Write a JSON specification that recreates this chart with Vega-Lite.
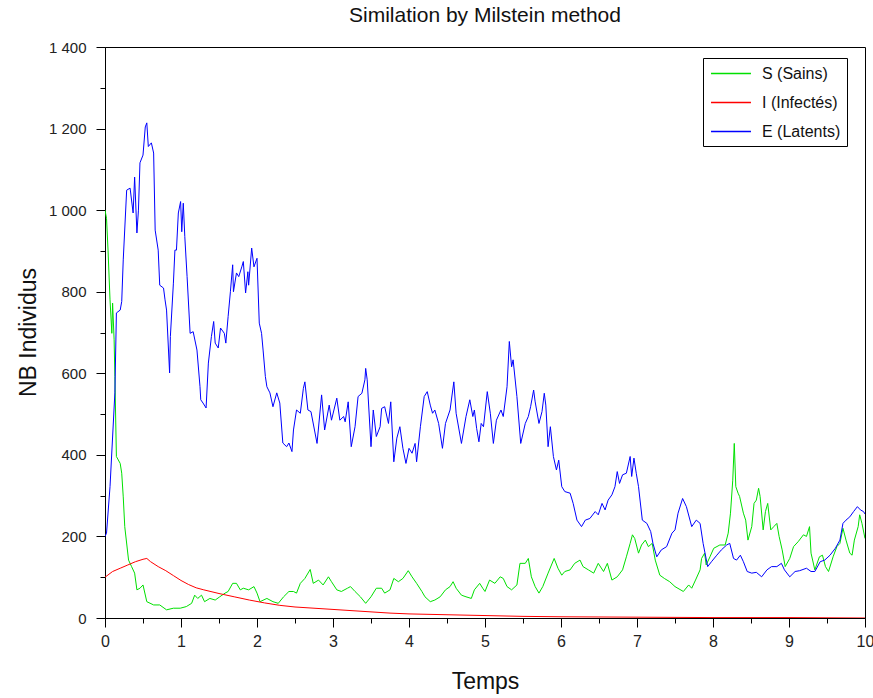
{
  "$schema": "https://vega.github.io/schema/vega-lite/v6.json",
  "autosize": {"type": "none"},
  "padding": {"left": 105, "top": 47, "right": 8, "bottom": 80},
  "width": 760,
  "height": 571,
  "background": "white",
  "title": {"text": "Similation by Milstein method", "fontSize": 21, "fontWeight": "normal", "font": "Liberation Sans", "color": "#111", "anchor": "middle", "frame": "group", "baseline": "alphabetic", "offset": -3},
  "config": {
    "font": "Liberation Sans",
    "view": {"stroke": "black", "strokeWidth": 1},
    "axis": {"grid": false, "domainColor": "black", "tickColor": "black", "labelColor": "#222", "labelFontSize": 15, "titleFontWeight": "normal", "titleColor": "#111", "titleFontSize": 23, "labelFont": "Liberation Sans", "titleFont": "Liberation Sans"},
    "legend": {"labelFont": "Liberation Sans"}
  },
  "data": {"values": [
    {"s":"S","t":0,"v":1000},{"s":"S","t":0.02,"v":980},{"s":"S","t":0.04,"v":902},{"s":"S","t":0.066,"v":780},{"s":"S","t":0.09,"v":698},{"s":"S","t":0.1,"v":772},{"s":"S","t":0.12,"v":682},{"s":"S","t":0.13,"v":592},{"s":"S","t":0.15,"v":396},{"s":"S","t":0.2,"v":379},{"s":"S","t":0.22,"v":355},{"s":"S","t":0.24,"v":297},{"s":"S","t":0.26,"v":224},{"s":"S","t":0.31,"v":142},{"s":"S","t":0.35,"v":126},{"s":"S","t":0.39,"v":110},{"s":"S","t":0.42,"v":69},{"s":"S","t":0.46,"v":73},{"s":"S","t":0.5,"v":81},{"s":"S","t":0.55,"v":40},{"s":"S","t":0.64,"v":32},{"s":"S","t":0.72,"v":32},{"s":"S","t":0.81,"v":20},{"s":"S","t":0.9,"v":24},{"s":"S","t":0.99,"v":24},{"s":"S","t":1.07,"v":28},{"s":"S","t":1.14,"v":36},{"s":"S","t":1.18,"v":56},{"s":"S","t":1.22,"v":48},{"s":"S","t":1.27,"v":56},{"s":"S","t":1.31,"v":40},{"s":"S","t":1.38,"v":48},{"s":"S","t":1.45,"v":44},{"s":"S","t":1.51,"v":52},{"s":"S","t":1.58,"v":61},{"s":"S","t":1.62,"v":65},{"s":"S","t":1.68,"v":85},{"s":"S","t":1.73,"v":85},{"s":"S","t":1.78,"v":69},{"s":"S","t":1.82,"v":73},{"s":"S","t":1.89,"v":69},{"s":"S","t":1.96,"v":77},{"s":"S","t":2.0,"v":61},{"s":"S","t":2.04,"v":40},{"s":"S","t":2.13,"v":48},{"s":"S","t":2.21,"v":40},{"s":"S","t":2.28,"v":36},{"s":"S","t":2.35,"v":52},{"s":"S","t":2.42,"v":65},{"s":"S","t":2.48,"v":65},{"s":"S","t":2.52,"v":61},{"s":"S","t":2.57,"v":85},{"s":"S","t":2.63,"v":97},{"s":"S","t":2.7,"v":119},{"s":"S","t":2.74,"v":85},{"s":"S","t":2.81,"v":93},{"s":"S","t":2.87,"v":81},{"s":"S","t":2.94,"v":101},{"s":"S","t":2.98,"v":89},{"s":"S","t":3.05,"v":69},{"s":"S","t":3.11,"v":65},{"s":"S","t":3.19,"v":73},{"s":"S","t":3.23,"v":77},{"s":"S","t":3.29,"v":65},{"s":"S","t":3.36,"v":52},{"s":"S","t":3.43,"v":36},{"s":"S","t":3.5,"v":52},{"s":"S","t":3.57,"v":73},{"s":"S","t":3.64,"v":73},{"s":"S","t":3.68,"v":61},{"s":"S","t":3.75,"v":69},{"s":"S","t":3.8,"v":97},{"s":"S","t":3.86,"v":89},{"s":"S","t":3.92,"v":97},{"s":"S","t":3.99,"v":116},{"s":"S","t":4.04,"v":101},{"s":"S","t":4.1,"v":85},{"s":"S","t":4.17,"v":65},{"s":"S","t":4.21,"v":52},{"s":"S","t":4.28,"v":40},{"s":"S","t":4.34,"v":44},{"s":"S","t":4.41,"v":52},{"s":"S","t":4.48,"v":69},{"s":"S","t":4.54,"v":77},{"s":"S","t":4.58,"v":89},{"s":"S","t":4.62,"v":73},{"s":"S","t":4.69,"v":56},{"s":"S","t":4.75,"v":52},{"s":"S","t":4.82,"v":48},{"s":"S","t":4.86,"v":69},{"s":"S","t":4.93,"v":85},{"s":"S","t":4.97,"v":73},{"s":"S","t":5.0,"v":65},{"s":"S","t":5.06,"v":93},{"s":"S","t":5.13,"v":85},{"s":"S","t":5.2,"v":101},{"s":"S","t":5.24,"v":97},{"s":"S","t":5.29,"v":77},{"s":"S","t":5.35,"v":69},{"s":"S","t":5.42,"v":81},{"s":"S","t":5.46,"v":134},{"s":"S","t":5.53,"v":134},{"s":"S","t":5.57,"v":146},{"s":"S","t":5.61,"v":101},{"s":"S","t":5.66,"v":77},{"s":"S","t":5.71,"v":61},{"s":"S","t":5.76,"v":77},{"s":"S","t":5.83,"v":110},{"s":"S","t":5.91,"v":146},{"s":"S","t":5.96,"v":122},{"s":"S","t":6.01,"v":105},{"s":"S","t":6.05,"v":114},{"s":"S","t":6.12,"v":118},{"s":"S","t":6.18,"v":134},{"s":"S","t":6.25,"v":142},{"s":"S","t":6.29,"v":126},{"s":"S","t":6.36,"v":118},{"s":"S","t":6.43,"v":110},{"s":"S","t":6.49,"v":134},{"s":"S","t":6.56,"v":114},{"s":"S","t":6.61,"v":134},{"s":"S","t":6.67,"v":93},{"s":"S","t":6.74,"v":101},{"s":"S","t":6.81,"v":118},{"s":"S","t":6.86,"v":150},{"s":"S","t":6.91,"v":183},{"s":"S","t":6.94,"v":204},{"s":"S","t":6.97,"v":195},{"s":"S","t":7.02,"v":159},{"s":"S","t":7.06,"v":179},{"s":"S","t":7.11,"v":191},{"s":"S","t":7.15,"v":175},{"s":"S","t":7.2,"v":183},{"s":"S","t":7.24,"v":142},{"s":"S","t":7.3,"v":105},{"s":"S","t":7.36,"v":97},{"s":"S","t":7.43,"v":89},{"s":"S","t":7.5,"v":77},{"s":"S","t":7.61,"v":65},{"s":"S","t":7.68,"v":81},{"s":"S","t":7.72,"v":73},{"s":"S","t":7.77,"v":93},{"s":"S","t":7.83,"v":118},{"s":"S","t":7.85,"v":146},{"s":"S","t":7.89,"v":159},{"s":"S","t":7.91,"v":130},{"s":"S","t":7.96,"v":150},{"s":"S","t":8.01,"v":171},{"s":"S","t":8.09,"v":179},{"s":"S","t":8.16,"v":179},{"s":"S","t":8.2,"v":208},{"s":"S","t":8.23,"v":257},{"s":"S","t":8.26,"v":338},{"s":"S","t":8.28,"v":428},{"s":"S","t":8.3,"v":322},{"s":"S","t":8.33,"v":306},{"s":"S","t":8.35,"v":298},{"s":"S","t":8.4,"v":257},{"s":"S","t":8.43,"v":240},{"s":"S","t":8.46,"v":191},{"s":"S","t":8.51,"v":224},{"s":"S","t":8.54,"v":281},{"s":"S","t":8.57,"v":289},{"s":"S","t":8.6,"v":318},{"s":"S","t":8.62,"v":298},{"s":"S","t":8.66,"v":216},{"s":"S","t":8.69,"v":261},{"s":"S","t":8.72,"v":281},{"s":"S","t":8.76,"v":216},{"s":"S","t":8.8,"v":224},{"s":"S","t":8.84,"v":232},{"s":"S","t":8.87,"v":200},{"s":"S","t":8.91,"v":167},{"s":"S","t":8.95,"v":126},{"s":"S","t":9.01,"v":146},{"s":"S","t":9.06,"v":175},{"s":"S","t":9.12,"v":187},{"s":"S","t":9.19,"v":204},{"s":"S","t":9.23,"v":200},{"s":"S","t":9.27,"v":224},{"s":"S","t":9.29,"v":159},{"s":"S","t":9.34,"v":118},{"s":"S","t":9.4,"v":150},{"s":"S","t":9.44,"v":154},{"s":"S","t":9.48,"v":126},{"s":"S","t":9.52,"v":114},{"s":"S","t":9.58,"v":150},{"s":"S","t":9.63,"v":175},{"s":"S","t":9.67,"v":183},{"s":"S","t":9.71,"v":220},{"s":"S","t":9.75,"v":191},{"s":"S","t":9.8,"v":159},{"s":"S","t":9.83,"v":154},{"s":"S","t":9.86,"v":191},{"s":"S","t":9.91,"v":224},{"s":"S","t":9.93,"v":253},{"s":"S","t":9.96,"v":232},{"s":"S","t":10,"v":195},
    {"s":"I","t":0,"v":100},{"s":"I","t":0.1,"v":114},{"s":"I","t":0.2,"v":122},{"s":"I","t":0.3,"v":130},{"s":"I","t":0.4,"v":138},{"s":"I","t":0.5,"v":144},{"s":"I","t":0.55,"v":146},{"s":"I","t":0.6,"v":138},{"s":"I","t":0.7,"v":126},{"s":"I","t":0.8,"v":116},{"s":"I","t":0.9,"v":104},{"s":"I","t":1.0,"v":92},{"s":"I","t":1.1,"v":82},{"s":"I","t":1.2,"v":74},{"s":"I","t":1.3,"v":69},{"s":"I","t":1.5,"v":60},{"s":"I","t":1.7,"v":52},{"s":"I","t":1.9,"v":44},{"s":"I","t":2.1,"v":37},{"s":"I","t":2.3,"v":31},{"s":"I","t":2.5,"v":27},{"s":"I","t":2.75,"v":24},{"s":"I","t":3.0,"v":21},{"s":"I","t":3.25,"v":18},{"s":"I","t":3.5,"v":15},{"s":"I","t":3.75,"v":12},{"s":"I","t":4.0,"v":10},{"s":"I","t":4.5,"v":8},{"s":"I","t":5.0,"v":6},{"s":"I","t":5.5,"v":4},{"s":"I","t":6.0,"v":3},{"s":"I","t":7.0,"v":2},{"s":"I","t":8.0,"v":1},{"s":"I","t":9.0,"v":1},{"s":"I","t":10,"v":0},
    {"s":"E","t":0,"v":200},{"s":"E","t":0.02,"v":208},{"s":"E","t":0.066,"v":322},{"s":"E","t":0.13,"v":552},{"s":"E","t":0.15,"v":748},{"s":"E","t":0.2,"v":755},{"s":"E","t":0.22,"v":776},{"s":"E","t":0.24,"v":878},{"s":"E","t":0.285,"v":1049},{"s":"E","t":0.33,"v":1054},{"s":"E","t":0.37,"v":993},{"s":"E","t":0.39,"v":1081},{"s":"E","t":0.42,"v":944},{"s":"E","t":0.44,"v":1000},{"s":"E","t":0.46,"v":1116},{"s":"E","t":0.5,"v":1135},{"s":"E","t":0.53,"v":1204},{"s":"E","t":0.55,"v":1214},{"s":"E","t":0.57,"v":1156},{"s":"E","t":0.61,"v":1165},{"s":"E","t":0.64,"v":1140},{"s":"E","t":0.66,"v":951},{"s":"E","t":0.7,"v":902},{"s":"E","t":0.72,"v":816},{"s":"E","t":0.77,"v":809},{"s":"E","t":0.79,"v":780},{"s":"E","t":0.81,"v":755},{"s":"E","t":0.85,"v":601},{"s":"E","t":0.86,"v":690},{"s":"E","t":0.9,"v":821},{"s":"E","t":0.92,"v":902},{"s":"E","t":0.94,"v":902},{"s":"E","t":0.965,"v":993},{"s":"E","t":0.995,"v":1021},{"s":"E","t":1.01,"v":947},{"s":"E","t":1.03,"v":1017},{"s":"E","t":1.05,"v":935},{"s":"E","t":1.08,"v":837},{"s":"E","t":1.12,"v":698},{"s":"E","t":1.16,"v":702},{"s":"E","t":1.21,"v":657},{"s":"E","t":1.25,"v":567},{"s":"E","t":1.26,"v":535},{"s":"E","t":1.29,"v":527},{"s":"E","t":1.33,"v":515},{"s":"E","t":1.36,"v":625},{"s":"E","t":1.4,"v":690},{"s":"E","t":1.43,"v":727},{"s":"E","t":1.45,"v":674},{"s":"E","t":1.49,"v":662},{"s":"E","t":1.52,"v":711},{"s":"E","t":1.57,"v":698},{"s":"E","t":1.59,"v":674},{"s":"E","t":1.62,"v":739},{"s":"E","t":1.65,"v":800},{"s":"E","t":1.68,"v":866},{"s":"E","t":1.69,"v":800},{"s":"E","t":1.73,"v":846},{"s":"E","t":1.76,"v":837},{"s":"E","t":1.8,"v":861},{"s":"E","t":1.82,"v":874},{"s":"E","t":1.85,"v":797},{"s":"E","t":1.88,"v":849},{"s":"E","t":1.89,"v":816},{"s":"E","t":1.93,"v":907},{"s":"E","t":1.96,"v":861},{"s":"E","t":2.0,"v":882},{"s":"E","t":2.03,"v":723},{"s":"E","t":2.06,"v":698},{"s":"E","t":2.08,"v":657},{"s":"E","t":2.11,"v":592},{"s":"E","t":2.13,"v":567},{"s":"E","t":2.17,"v":552},{"s":"E","t":2.21,"v":518},{"s":"E","t":2.26,"v":552},{"s":"E","t":2.3,"v":527},{"s":"E","t":2.34,"v":429},{"s":"E","t":2.39,"v":420},{"s":"E","t":2.42,"v":429},{"s":"E","t":2.46,"v":408},{"s":"E","t":2.48,"v":461},{"s":"E","t":2.52,"v":510},{"s":"E","t":2.57,"v":502},{"s":"E","t":2.61,"v":563},{"s":"E","t":2.63,"v":579},{"s":"E","t":2.67,"v":510},{"s":"E","t":2.71,"v":506},{"s":"E","t":2.79,"v":428},{"s":"E","t":2.85,"v":547},{"s":"E","t":2.89,"v":461},{"s":"E","t":2.95,"v":522},{"s":"E","t":2.98,"v":485},{"s":"E","t":3.05,"v":539},{"s":"E","t":3.09,"v":485},{"s":"E","t":3.14,"v":494},{"s":"E","t":3.16,"v":481},{"s":"E","t":3.2,"v":530},{"s":"E","t":3.24,"v":420},{"s":"E","t":3.29,"v":469},{"s":"E","t":3.33,"v":543},{"s":"E","t":3.38,"v":551},{"s":"E","t":3.42,"v":584},{"s":"E","t":3.43,"v":612},{"s":"E","t":3.45,"v":584},{"s":"E","t":3.5,"v":420},{"s":"E","t":3.53,"v":510},{"s":"E","t":3.57,"v":445},{"s":"E","t":3.62,"v":469},{"s":"E","t":3.64,"v":514},{"s":"E","t":3.68,"v":518},{"s":"E","t":3.73,"v":477},{"s":"E","t":3.76,"v":530},{"s":"E","t":3.8,"v":383},{"s":"E","t":3.84,"v":441},{"s":"E","t":3.88,"v":469},{"s":"E","t":3.92,"v":416},{"s":"E","t":3.96,"v":379},{"s":"E","t":4.0,"v":416},{"s":"E","t":4.04,"v":404},{"s":"E","t":4.08,"v":428},{"s":"E","t":4.1,"v":383},{"s":"E","t":4.15,"v":469},{"s":"E","t":4.2,"v":543},{"s":"E","t":4.24,"v":555},{"s":"E","t":4.28,"v":522},{"s":"E","t":4.31,"v":502},{"s":"E","t":4.34,"v":510},{"s":"E","t":4.39,"v":477},{"s":"E","t":4.44,"v":416},{"s":"E","t":4.48,"v":477},{"s":"E","t":4.54,"v":510},{"s":"E","t":4.59,"v":579},{"s":"E","t":4.62,"v":502},{"s":"E","t":4.69,"v":428},{"s":"E","t":4.75,"v":494},{"s":"E","t":4.8,"v":535},{"s":"E","t":4.84,"v":494},{"s":"E","t":4.86,"v":510},{"s":"E","t":4.89,"v":465},{"s":"E","t":4.92,"v":432},{"s":"E","t":4.95,"v":477},{"s":"E","t":4.98,"v":469},{"s":"E","t":5.03,"v":555},{"s":"E","t":5.07,"v":502},{"s":"E","t":5.11,"v":428},{"s":"E","t":5.15,"v":485},{"s":"E","t":5.21,"v":510},{"s":"E","t":5.24,"v":494},{"s":"E","t":5.29,"v":567},{"s":"E","t":5.32,"v":678},{"s":"E","t":5.35,"v":616},{"s":"E","t":5.37,"v":633},{"s":"E","t":5.42,"v":543},{"s":"E","t":5.47,"v":428},{"s":"E","t":5.53,"v":477},{"s":"E","t":5.57,"v":494},{"s":"E","t":5.6,"v":518},{"s":"E","t":5.64,"v":559},{"s":"E","t":5.66,"v":530},{"s":"E","t":5.71,"v":477},{"s":"E","t":5.75,"v":506},{"s":"E","t":5.78,"v":551},{"s":"E","t":5.8,"v":522},{"s":"E","t":5.83,"v":420},{"s":"E","t":5.86,"v":469},{"s":"E","t":5.9,"v":396},{"s":"E","t":5.94,"v":363},{"s":"E","t":5.97,"v":387},{"s":"E","t":6.01,"v":322},{"s":"E","t":6.05,"v":310},{"s":"E","t":6.12,"v":306},{"s":"E","t":6.16,"v":281},{"s":"E","t":6.21,"v":240},{"s":"E","t":6.27,"v":224},{"s":"E","t":6.32,"v":240},{"s":"E","t":6.38,"v":244},{"s":"E","t":6.45,"v":261},{"s":"E","t":6.49,"v":253},{"s":"E","t":6.54,"v":281},{"s":"E","t":6.58,"v":265},{"s":"E","t":6.62,"v":289},{"s":"E","t":6.67,"v":302},{"s":"E","t":6.71,"v":322},{"s":"E","t":6.74,"v":359},{"s":"E","t":6.77,"v":330},{"s":"E","t":6.81,"v":351},{"s":"E","t":6.86,"v":355},{"s":"E","t":6.91,"v":396},{"s":"E","t":6.93,"v":347},{"s":"E","t":6.96,"v":392},{"s":"E","t":6.99,"v":355},{"s":"E","t":7.02,"v":322},{"s":"E","t":7.07,"v":240},{"s":"E","t":7.13,"v":232},{"s":"E","t":7.18,"v":212},{"s":"E","t":7.21,"v":183},{"s":"E","t":7.26,"v":150},{"s":"E","t":7.32,"v":167},{"s":"E","t":7.39,"v":175},{"s":"E","t":7.46,"v":208},{"s":"E","t":7.5,"v":216},{"s":"E","t":7.54,"v":257},{"s":"E","t":7.6,"v":293},{"s":"E","t":7.65,"v":273},{"s":"E","t":7.72,"v":224},{"s":"E","t":7.78,"v":240},{"s":"E","t":7.83,"v":232},{"s":"E","t":7.87,"v":183},{"s":"E","t":7.93,"v":126},{"s":"E","t":7.98,"v":138},{"s":"E","t":8.05,"v":154},{"s":"E","t":8.11,"v":167},{"s":"E","t":8.18,"v":179},{"s":"E","t":8.22,"v":183},{"s":"E","t":8.27,"v":146},{"s":"E","t":8.31,"v":142},{"s":"E","t":8.36,"v":154},{"s":"E","t":8.4,"v":138},{"s":"E","t":8.45,"v":114},{"s":"E","t":8.51,"v":110},{"s":"E","t":8.57,"v":112},{"s":"E","t":8.64,"v":101},{"s":"E","t":8.71,"v":118},{"s":"E","t":8.77,"v":126},{"s":"E","t":8.84,"v":126},{"s":"E","t":8.9,"v":134},{"s":"E","t":8.94,"v":118},{"s":"E","t":9.01,"v":101},{"s":"E","t":9.08,"v":114},{"s":"E","t":9.14,"v":116},{"s":"E","t":9.23,"v":122},{"s":"E","t":9.29,"v":114},{"s":"E","t":9.34,"v":114},{"s":"E","t":9.41,"v":138},{"s":"E","t":9.47,"v":142},{"s":"E","t":9.54,"v":154},{"s":"E","t":9.61,"v":171},{"s":"E","t":9.67,"v":191},{"s":"E","t":9.71,"v":232},{"s":"E","t":9.75,"v":240},{"s":"E","t":9.8,"v":248},{"s":"E","t":9.85,"v":261},{"s":"E","t":9.9,"v":273},{"s":"E","t":9.94,"v":265},{"s":"E","t":9.98,"v":261},{"s":"E","t":10,"v":255}
  ]},
  "mark": {"type": "line", "strokeWidth": 1, "clip": true},
  "encoding": {
    "x": {"field": "t", "type": "quantitative",
      "scale": {"domain": [0, 10], "nice": false, "zero": false},
      "axis": {"title": "Temps", "values": [0,0.5,1,1.5,2,2.5,3,3.5,4,4.5,5,5.5,6,6.5,7,7.5,8,8.5,9,9.5,10],
        "labelExpr": "datum.value % 1 === 0 ? format(datum.value, 'd') : ''",
        "tickSize": {"condition": {"test": "datum.value % 1 === 0", "value": 9}, "value": 5},
        "labelPadding": 6, "labelOverlap": false, "labelFlush": false, "labelFontSize": 16,
        "titleBaseline": "alphabetic", "titleY": 70, "titleX": 380, "titleAnchor": "middle"}},
    "y": {"field": "v", "type": "quantitative",
      "scale": {"domain": [0, 1400], "nice": false},
      "axis": {"title": "NB Individus", "values": [0,100,200,300,400,500,600,700,800,900,1000,1100,1200,1300,1400],
        "labelExpr": "datum.value % 200 === 0 ? replace(format(datum.value, ','), ',', ' ') : ''",
        "tickSize": {"condition": {"test": "datum.value % 200 === 0", "value": 9}, "value": 5},
        "labelPadding": 10, "labelOverlap": false, "labelFlush": false,
        "titleBaseline": "alphabetic", "titleX": -70, "titleY": 285, "titleAngle": -90, "titleAnchor": "middle"}},
    "color": {"field": "s", "type": "nominal",
      "scale": {"domain": ["S", "I", "E"], "range": ["#00e000", "#ff0000", "#0000ff"]},
      "legend": {"title": null, "orient": "none", "legendX": 598, "legendY": 11,
        "labelExpr": "datum.label === 'S' ? 'S (Sains)\u00a0\u00a0\u00a0' : datum.label === 'I' ? 'I (Infectés)\u00a0\u00a0\u00a0' : 'E (Latents)\u00a0\u00a0\u00a0'",
        "symbolType": "M-0.88,0L3.82,0", "symbolSize": 289, "symbolStrokeWidth": 1.5, "symbolFillColor": "transparent",
        "labelFontSize": 16, "labelColor": "#111", "labelOffset": 34,
        "strokeColor": "black", "fillColor": "white", "padding": 6, "rowPadding": 11,
        "symbolOpacity": 1}}
  }
}
